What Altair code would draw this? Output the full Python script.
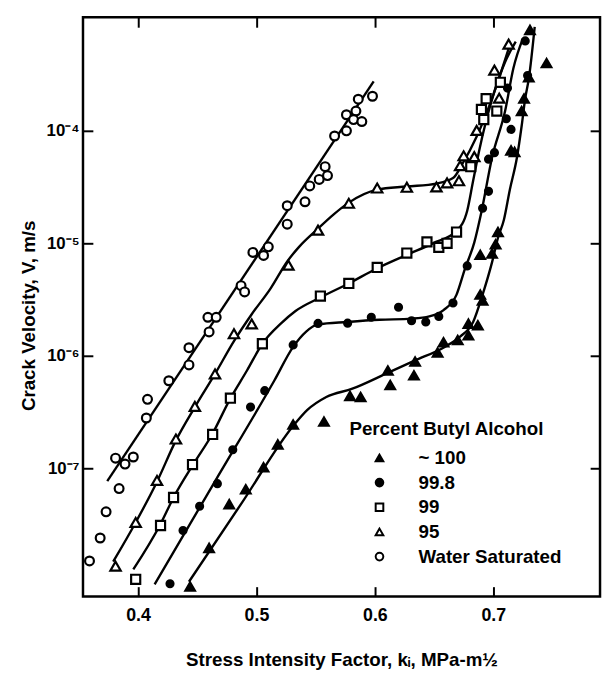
import altair as alt
import pandas as pd

SERIES = ["~ 100", "99.8", "99", "95", "Water Saturated"]
SHAPES = ["triangle-up", "circle", "square", "triangle-up", "circle"]
FILLS = ["black", "black", "white", "white", "white"]
SIZES = {"~ 100": 95, "99.8": 50, "99": 85, "95": 110, "Water Saturated": 80}

# ---- measured points (k in MPa-m^1/2, V in m/s) ----
water_k = [0.359, 0.368, 0.373, 0.384, 0.381, 0.389, 0.396, 0.407, 0.408, 0.426, 0.443, 0.443,
           0.460, 0.459, 0.466, 0.487, 0.490, 0.497, 0.506, 0.510, 0.526, 0.526, 0.541, 0.545,
           0.553, 0.560, 0.558, 0.566, 0.576, 0.576, 0.584, 0.582, 0.589, 0.586, 0.598]
water_v = [1.5e-8, 2.4e-8, 4.1e-8, 6.6e-8, 1.23e-7, 1.09e-7, 1.26e-7, 2.8e-7, 4.1e-7, 6.0e-7, 8.3e-7, 1.18e-6,
           1.63e-6, 2.2e-6, 2.2e-6, 4.2e-6, 3.7e-6, 8.3e-6, 7.8e-6, 9.3e-6, 1.48e-5, 2.16e-5, 2.34e-5, 3.24e-5,
           3.7e-5, 4.0e-5, 4.8e-5, 9.0e-5, 1.0e-4, 1.39e-4, 1.5e-4, 1.26e-4, 1.21e-4, 1.91e-4, 2.03e-4]

p95_k = [0.381, 0.398, 0.416, 0.432, 0.448, 0.465, 0.481, 0.496, 0.527, 0.552, 0.578, 0.602,
         0.627, 0.652, 0.661, 0.671, 0.672, 0.675, 0.684, 0.686, 0.705, 0.701, 0.713]
p95_v = [1.35e-8, 3.3e-8, 7.8e-8, 1.82e-7, 3.55e-7, 6.9e-7, 1.57e-6, 1.92e-6, 6.4e-6, 1.31e-5, 2.27e-5, 3.1e-5,
         3.15e-5, 3.17e-5, 3.45e-5, 3.6e-5, 4.9e-5, 6.0e-5, 5.9e-5, 1.01e-4, 1.95e-4, 3.47e-4, 5.9e-4]

p99_k = [0.398, 0.419, 0.430, 0.446, 0.463, 0.478, 0.505, 0.554, 0.578, 0.602, 0.627, 0.644,
         0.654, 0.661, 0.669, 0.681, 0.690, 0.692, 0.694, 0.703, 0.706]
p99_v = [1.03e-8, 3.1e-8, 5.5e-8, 1.08e-7, 2.0e-7, 4.2e-7, 1.28e-6, 3.4e-6, 4.4e-6, 6.1e-6, 8.2e-6, 1.03e-5,
         9.2e-6, 1.0e-5, 1.26e-5, 4.8e-5, 1.55e-4, 1.26e-4, 1.93e-4, 1.5e-4, 2.7e-4]

p998_k = [0.427, 0.438, 0.452, 0.467, 0.480, 0.495, 0.507, 0.531, 0.552, 0.577, 0.597, 0.620, 0.631,
          0.643, 0.654, 0.666, 0.678, 0.691, 0.696, 0.696, 0.701, 0.711, 0.715, 0.712, 0.729, 0.727]
p998_v = [9.4e-9, 2.8e-8, 4.6e-8, 7.3e-8, 1.46e-7, 3.5e-7, 4.9e-7, 1.25e-6, 1.94e-6, 1.95e-6, 2.2e-6, 2.7e-6, 2.05e-6,
          2.0e-6, 2.24e-6, 2.95e-6, 6.3e-6, 2.05e-5, 2.9e-5, 5.6e-5, 6.4e-5, 1.28e-4, 1.03e-4, 2.4e-4, 3.1e-4, 6.3e-4]

p100_k = [0.444, 0.460, 0.477, 0.491, 0.506, 0.518, 0.531, 0.557, 0.579, 0.588, 0.611, 0.613, 0.634,
          0.633, 0.653, 0.658, 0.670, 0.679, 0.679, 0.687, 0.689, 0.691, 0.689, 0.699, 0.702, 0.704,
          0.715, 0.718, 0.724, 0.726, 0.730, 0.731, 0.745]
p100_v = [8.9e-9, 1.96e-8, 4.8e-8, 6.5e-8, 1.02e-7, 1.63e-7, 2.45e-7, 2.6e-7, 4.4e-7, 4.3e-7, 7.4e-7, 5.5e-7, 8.9e-7,
          6.7e-7, 1.07e-6, 1.32e-6, 1.38e-6, 1.52e-6, 1.93e-6, 1.87e-6, 3.5e-6, 3.1e-6, 7.9e-6, 8.1e-6, 9.8e-6, 1.26e-5,
          6.7e-5, 6.5e-5, 1.5e-4, 1.94e-4, 3.0e-4, 7.9e-4, 4.0e-4]

# ---- hand-drawn curves ----
cw_k = [0.374, 0.599]
cw_v = [7.7e-8, 2.75e-4]

c95_k = [0.379, 0.398, 0.416, 0.432, 0.448, 0.465, 0.481, 0.496, 0.512, 0.526, 0.536, 0.551, 0.565,
         0.578, 0.602, 0.627, 0.652, 0.666, 0.674, 0.686, 0.698, 0.714]
c95_v = [1.48e-8, 3.3e-8, 7.6e-8, 1.77e-7, 3.5e-7, 6.9e-7, 1.35e-6, 2.34e-6, 3.98e-6, 6.9e-6, 9.3e-6, 1.32e-5, 1.8e-5,
         2.3e-5, 3.0e-5, 3.2e-5, 3.4e-5, 3.8e-5, 5.1e-5, 8.9e-5, 1.82e-4, 5.8e-4]

c99_k = [0.396, 0.419, 0.430, 0.447, 0.463, 0.477, 0.492, 0.505, 0.521, 0.533, 0.554, 0.578, 0.602,
         0.627, 0.649, 0.669, 0.678, 0.683, 0.688, 0.694, 0.701, 0.710, 0.719]
c99_v = [1.26e-8, 3.2e-8, 5.5e-8, 1.1e-7, 2.04e-7, 4.0e-7, 7.4e-7, 1.28e-6, 1.95e-6, 2.5e-6, 3.3e-6, 4.4e-6, 6.0e-6,
         7.9e-6, 1.0e-5, 1.29e-5, 1.95e-5, 3.6e-5, 6.6e-5, 1.23e-4, 2.24e-4, 4.1e-4, 6.2e-4]

c998_k = [0.414, 0.4645, 0.515, 0.531, 0.542, 0.552, 0.577, 0.604, 0.631, 0.646, 0.658, 0.669, 0.676,
          0.684, 0.690, 0.699, 0.710, 0.717, 0.725]
c998_v = [9.3e-9, 7.5e-8, 6.0e-7, 1.2e-6, 1.64e-6, 1.9e-6, 2.0e-6, 2.09e-6, 2.14e-6, 2.24e-6, 2.55e-6, 3.5e-6, 5.9e-6,
          1.02e-5, 1.9e-5, 5.8e-5, 1.5e-4, 3.6e-4, 6.6e-4]

c100_k = [0.443, 0.4875, 0.532, 0.543, 0.559, 0.581, 0.609, 0.634, 0.659, 0.672, 0.683, 0.691, 0.699,
          0.704, 0.709, 0.714, 0.720, 0.724, 0.727, 0.730, 0.735]
c100_v = [9.8e-9, 4.9e-8, 2.45e-7, 3.3e-7, 4.3e-7, 5.1e-7, 6.9e-7, 9.1e-7, 1.2e-6, 1.48e-6, 2.0e-6, 3.5e-6, 6.8e-6,
          1.12e-5, 1.62e-5, 3.0e-5, 5.8e-5, 1.11e-4, 1.95e-4, 2.9e-4, 8.4e-4]

x_ticks = [0.4, 0.5, 0.6, 0.7]
y_ticks = [1e-4, 1e-5, 1e-6, 1e-7]


def frame(ks, vs, name, col):
    return pd.DataFrame({"k": ks, "v": vs, col: name})


pts = pd.concat([
    frame(p100_k, p100_v, "~ 100", "series"),
    frame(p998_k, p998_v, "99.8", "series"),
    frame(p99_k, p99_v, "99", "series"),
    frame(p95_k, p95_v, "95", "series"),
    frame(water_k, water_v, "Water Saturated", "series"),
], ignore_index=True)
pts["sz"] = pts["series"].map(SIZES)

curves = pd.concat([
    frame(c100_k, c100_v, "c100", "curve"),
    frame(c998_k, c998_v, "c998", "curve"),
    frame(c99_k, c99_v, "c99", "curve"),
    frame(c95_k, c95_v, "c95", "curve"),
    frame(cw_k, cw_v, "cw", "curve"),
], ignore_index=True)

FONT = "Liberation Sans"
xscale = alt.Scale(domain=[0.3535, 0.79017], nice=False, zero=False)
yscale = alt.Scale(type="log", domain=[7.24e-9, 1.021e-3], nice=False)

ylab = ("datum.value >= 5e-5 ? '10\u207b\u2074' : datum.value >= 5e-6 ? '10\u207b\u2075' : "
        "datum.value >= 5e-7 ? '10\u207b\u2076' : '10\u207b\u2077'")

common_axis = dict(offset=-10, domain=False, tickSize=10, tickWidth=2, tickColor="black", grid=False)

x_bottom = alt.Axis(orient="bottom", values=x_ticks, format=".1f", labelFont=FONT, labelFontSize=18,
                    labelFontWeight="bold", labelColor="black", labelPadding=10,
                    title="Stress Intensity Factor, k\u1d62, MPa-m\u00bd", titleFont=FONT, titleFontSize=19,
                    titleFontWeight="bold", titleColor="black", titlePadding=27, **common_axis)
y_left = alt.Axis(orient="left", values=y_ticks, labelExpr=ylab, labelFont=FONT, labelFontSize=17,
                  labelFontWeight="bold", labelColor="black", labelPadding=4,
                  title="Crack Velocity, V, m/s", titleFont=FONT, titleFontSize=19, titleFontWeight="bold",
                  titleColor="black", titlePadding=8, titleY=302, **common_axis)
x_top = alt.Axis(orient="top", values=x_ticks, labels=False, title=None, **common_axis)
y_right = alt.Axis(orient="right", values=y_ticks, labels=False, title=None, **common_axis)

legend = alt.Legend(orient="none", legendX=270, legendY=408, title="Percent Butyl Alcohol",
                    titleFont=FONT, titleFontSize=19, titleFontWeight="bold", titleColor="black",
                    titleLimit=400, labelLimit=400,
                    labelFont=FONT, labelFontSize=19, labelFontWeight="bold", labelColor="black",
                    symbolOffset=21, labelOffset=30, rowPadding=5, titlePadding=10,
                    symbolSize=60, symbolStrokeColor="black", symbolStrokeWidth=2, padding=0)

lines = alt.Chart(curves).mark_line(color="black", strokeWidth=2.4, interpolate="monotone").encode(
    x=alt.X("k:Q", scale=xscale, axis=x_bottom),
    y=alt.Y("v:Q", scale=yscale, axis=y_left),
    detail="curve:N",
)

points = alt.Chart(pts).mark_point(filled=False, strokeWidth=2.2, opacity=1).encode(
    x=alt.X("k:Q", scale=xscale, axis=x_top),
    y=alt.Y("v:Q", scale=yscale, axis=y_right),
    shape=alt.Shape("series:N", scale=alt.Scale(domain=SERIES, range=SHAPES), legend=legend),
    fill=alt.Fill("series:N", scale=alt.Scale(domain=SERIES, range=FILLS), legend=legend),
    stroke=alt.Stroke("series:N", scale=alt.Scale(domain=SERIES, range=["black"] * 5), legend=legend),
    size=alt.Size("sz:Q", scale=None, legend=None),
)

chart = alt.layer(lines, points).resolve_axis(x="independent", y="independent").properties(
    width=524, height=587,
    autosize=alt.AutoSizeParams(type="none"),
    padding={"left": 76, "top": 5, "right": 2, "bottom": 72},
    background="white",
).configure_view(stroke="black", strokeWidth=2.5)

chart.save("out.html", embed_options={"renderer": "svg", "actions": False})
